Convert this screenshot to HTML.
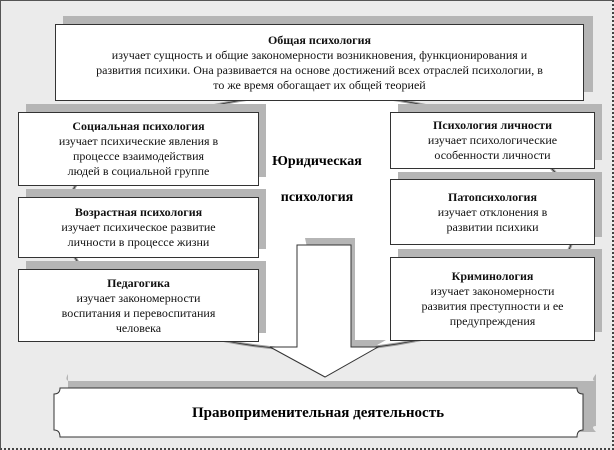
<!DOCTYPE html>
<html><head><meta charset="utf-8"><style>
body{margin:0;width:614px;height:450px;overflow:hidden;background:#fff;font-family:"Liberation Serif","DejaVu Serif",serif;}
#f{position:absolute;left:0;top:0;width:611px;height:447px;border:1px solid #555;border-right:2px dotted #444;border-bottom:2px dotted #444;background:#ebebeb;}
.b{position:absolute;background:#fff;border:1px solid #333;box-sizing:border-box;text-align:center;font-family:"Liberation Serif","DejaVu Serif",serif;font-size:12px;line-height:15px;color:#111;display:flex;flex-direction:column;justify-content:center;}
.s{position:absolute;background:#b5b5b5;}
.b b{font-weight:bold;}
</style></head><body>
<div id="f"></div>
<svg style="position:absolute;left:0;top:0" width="614" height="450">
<ellipse cx="320" cy="222" rx="255" ry="128" fill="#fff" stroke="#a0a0a0" stroke-width="3"/>
<ellipse cx="320" cy="222" rx="255" ry="128" fill="none" stroke="#333" stroke-width="0.8"/>
</svg>
<div class="s" style="left:63px;top:16px;width:530px;height:76px"></div>
<div class="b" style="left:55px;top:24px;width:529px;height:77px;padding:0 40px"><b>Общая психология</b>изучает сущность и общие закономерности возникновения, функционирования и развития психики. Она развивается на основе достижений всех отраслей психологии, в то же время обогащает их общей теорией</div>
<div class="s" style="left:26px;top:104px;width:240px;height:73px"></div>
<div class="b" style="left:18px;top:112px;width:241px;height:74px"><b>Социальная психология</b>изучает психические явления в<br>процессе взаимодействия<br>людей в социальной группе</div>
<div class="s" style="left:26px;top:189px;width:240px;height:60px"></div>
<div class="b" style="left:18px;top:197px;width:241px;height:61px"><b>Возрастная психология</b>изучает психическое развитие<br>личности в процессе жизни</div>
<div class="s" style="left:26px;top:261px;width:240px;height:72px"></div>
<div class="b" style="left:18px;top:269px;width:241px;height:73px"><b>Педагогика</b>изучает закономерности<br>воспитания и перевоспитания<br>человека</div>
<div class="s" style="left:398px;top:104px;width:204px;height:56px"></div>
<div class="b" style="left:390px;top:112px;width:205px;height:57px"><b>Психология личности</b>изучает психологические<br>особенности личности</div>
<div class="s" style="left:398px;top:172px;width:204px;height:65px"></div>
<div class="b" style="left:390px;top:179px;width:205px;height:66px"><b>Патопсихология</b>изучает отклонения в<br>развитии психики</div>
<div class="s" style="left:398px;top:249px;width:204px;height:83px"></div>
<div class="b" style="left:390px;top:257px;width:205px;height:84px"><b>Криминология</b>изучает закономерности<br>развития преступности и ее<br>предупреждения</div>
<div style="position:absolute;left:262px;top:154px;width:110px;text-align:center;font-weight:bold;font-size:14px">Юридическая</div>
<div style="position:absolute;left:262px;top:190px;width:110px;text-align:center;font-weight:bold;font-size:14px">психология</div>
<svg style="position:absolute;left:0;top:0" width="614" height="450">
<polygon points="305,238 355,238 355,340 386,340 333,370" fill="#b5b5b5"/>
<polygon points="297,245 351,245 351,347 378,347 325,377 270,347 297,347" fill="#fff" stroke="#333" stroke-width="1"/>
<path d="M68,374 Q64,381 70,381 L596,381 Q590,381 596,374 L596,426 Q590,426 596,432 L68,432 Q62,432 68,426 Z" fill="#b5b5b5"/>
<path d="M60,388 Q60,394 54,394 L54,430 Q60,430 60,437 L577,437 Q577,430 583,430 L583,394 Q577,394 577,388 Z" fill="#fff" stroke="#333" stroke-width="1"/>
<text x="318" y="417" text-anchor="middle" font-family="Liberation Serif, serif" font-weight="bold" font-size="15">Правоприменительная деятельность</text>
</svg>
</body></html>
